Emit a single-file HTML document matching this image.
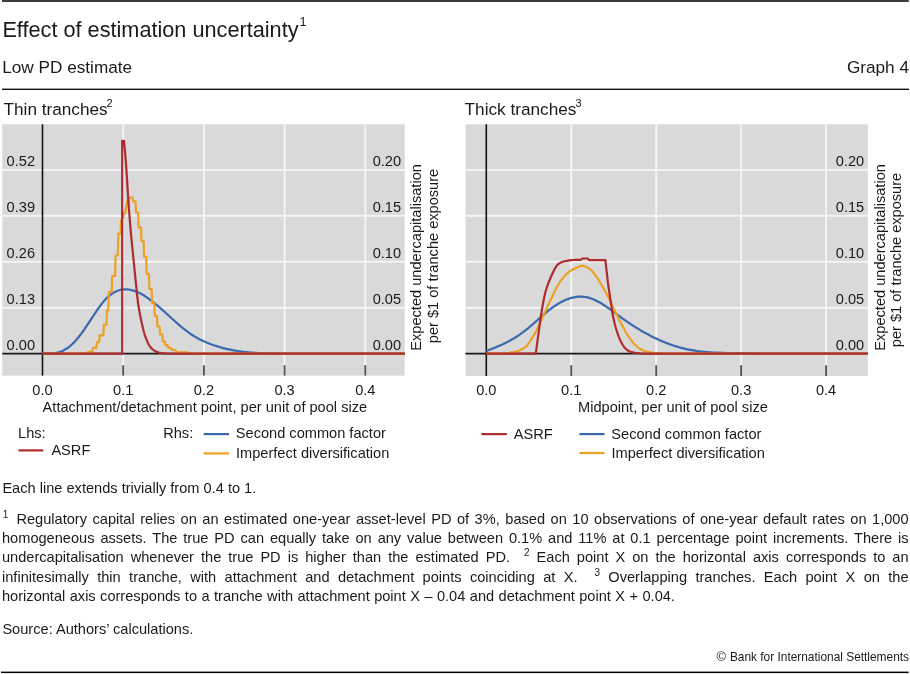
<!DOCTYPE html>
<html><head><meta charset="utf-8">
<style>
html,body{margin:0;padding:0;background:#fff;}
body{width:910px;height:674px;position:relative;overflow:hidden;font-family:"Liberation Sans",sans-serif;color:#1a1a1a;}
svg{position:absolute;left:0;top:0;will-change:transform;}
.fn{will-change:transform;position:absolute;left:2.4px;width:906.6px;font-size:14.6px;line-height:19.4px;white-space:nowrap;}
.j{text-align:justify;text-align-last:justify;white-space:normal;}
.fn sup{font-size:10px;vertical-align:0;position:relative;top:-6.5px;}
</style></head><body>
<svg width="910" height="674" viewBox="0 0 910 674">
<rect x="2" y="0" width="906.8" height="2" fill="#3c3c3c"/>
<rect x="2" y="88.6" width="907" height="1.4" fill="#111"/>
<rect x="1" y="671.6" width="907.6" height="1.5" fill="#000"/>
<g font-family="Liberation Sans, sans-serif" fill="#1a1a1a">
<text x="2.4" y="36.5" font-size="21.7">Effect of estimation uncertainty</text>
<text x="299.4" y="26.2" font-size="12.8">1</text>
<text x="2.2" y="72.7" font-size="17.2">Low PD estimate</text>
<text x="909" y="72.7" font-size="17.2" text-anchor="end">Graph 4</text>
<text x="3.5" y="115" font-size="17.2">Thin tranches</text>
<text x="106.4" y="107.2" font-size="11">2</text>
<text x="464.6" y="115" font-size="17.2">Thick tranches</text>
<text x="575.6" y="107.1" font-size="11">3</text>
<text x="2.4" y="492.9" font-size="14.6">Each line extends trivially from 0.4 to 1.</text>
<text x="2.4" y="633.7" font-size="14.6">Source: Authors’ calculations.</text>
<text x="716.4" y="661.4" font-size="12.8">©</text><text x="909" y="661.2" font-size="11.9" text-anchor="end">Bank for International Settlements</text>
</g>
<g font-family="Liberation Sans, sans-serif" font-size="14.6" fill="#1a1a1a">
<text x="18.1" y="437.8">Lhs:</text>
<text x="51.4" y="454.6">ASRF</text>
<text x="163.2" y="437.8">Rhs:</text>
<text x="235.8" y="438">Second common factor</text>
<text x="236" y="457.7">Imperfect diversification</text>
<text x="513.8" y="438.5">ASRF</text>
<text x="611.3" y="438.5">Second common factor</text>
<text x="611.5" y="457.8">Imperfect diversification</text>
</g>
<g stroke-width="2.2">
<line x1="18.5" x2="43.3" y1="450.4" y2="450.4" stroke="#ae2b2e"/>
<line x1="203.6" x2="229" y1="434.1" y2="434.1" stroke="#3a69ad"/>
<line x1="203.6" x2="229" y1="453.4" y2="453.4" stroke="#eca125"/>
<line x1="481.4" x2="506.9" y1="434.1" y2="434.1" stroke="#ae2b2e"/>
<line x1="579.4" x2="604.5" y1="434.1" y2="434.1" stroke="#3a69ad"/>
<line x1="579.4" x2="604.5" y1="453" y2="453" stroke="#eca125"/>
</g>
<rect x="2.25" y="124.3" width="402.45" height="251.30" fill="#d9d9d9"/>
<line x1="2.25" x2="404.7" y1="307.71" y2="307.71" stroke="#f4f4f4" stroke-width="2"/>
<line x1="2.25" x2="404.7" y1="261.77" y2="261.77" stroke="#f4f4f4" stroke-width="2"/>
<line x1="2.25" x2="404.7" y1="215.83" y2="215.83" stroke="#f4f4f4" stroke-width="2"/>
<line x1="2.25" x2="404.7" y1="169.89" y2="169.89" stroke="#f4f4f4" stroke-width="2"/>
<line x1="123.20" x2="123.20" y1="124.3" y2="375.6" stroke="#f4f4f4" stroke-width="2"/>
<line x1="123.20" x2="123.20" y1="365.2" y2="375.6" stroke="#505050" stroke-width="1.8"/>
<line x1="203.90" x2="203.90" y1="124.3" y2="375.6" stroke="#f4f4f4" stroke-width="2"/>
<line x1="203.90" x2="203.90" y1="365.2" y2="375.6" stroke="#505050" stroke-width="1.8"/>
<line x1="284.60" x2="284.60" y1="124.3" y2="375.6" stroke="#f4f4f4" stroke-width="2"/>
<line x1="284.60" x2="284.60" y1="365.2" y2="375.6" stroke="#505050" stroke-width="1.8"/>
<line x1="365.30" x2="365.30" y1="124.3" y2="375.6" stroke="#f4f4f4" stroke-width="2"/>
<line x1="365.30" x2="365.30" y1="365.2" y2="375.6" stroke="#505050" stroke-width="1.8"/>
<line x1="2.25" x2="404.7" y1="353.65" y2="353.65" stroke="#1a1a1a" stroke-width="1.8"/>
<line x1="42.5" x2="42.5" y1="124.3" y2="375.6" stroke="#111" stroke-width="1.6"/>
<path d="M42.5,353.2 43.5,353.3 44.5,353.4 45.5,353.6 46.5,353.6 47.5,353.6 48.5,353.6 49.5,353.6 50.5,353.6 51.5,353.6 52.5,353.6 53.5,353.5 54.5,353.3 55.5,353.2 56.5,352.9 57.5,352.7 58.5,352.4 59.5,352.1 60.5,351.7 61.5,351.3 62.5,350.9 63.5,350.4 64.5,349.8 65.5,349.3 66.5,348.6 67.5,348 68.5,347.3 69.5,346.5 70.5,345.7 71.5,344.8 72.5,343.9 73.5,342.9 74.5,341.9 75.5,340.8 76.5,339.7 77.5,338.5 78.5,337.3 79.5,336 80.5,334.7 81.5,333.4 82.5,332 83.5,330.6 84.5,329.2 85.5,327.7 86.5,326.2 87.5,324.7 88.5,323.2 89.5,321.7 90.5,320.2 91.5,318.6 92.5,317.1 93.5,315.6 94.5,314.1 95.5,312.6 96.5,311.1 97.5,309.6 98.5,308.2 99.5,306.8 100.5,305.4 101.5,304.1 102.5,302.8 103.5,301.6 104.5,300.4 105.5,299.3 106.5,298.3 107.5,297.3 108.5,296.4 109.5,295.6 110.5,294.8 111.5,294.1 112.5,293.4 113.5,292.8 114.5,292.2 115.5,291.7 116.5,291.2 117.5,290.8 118.5,290.5 119.5,290.2 120.5,289.9 121.5,289.7 122.5,289.6 123.5,289.4 124.5,289.4 125.5,289.3 126.5,289.4 127.5,289.4 128.5,289.5 129.5,289.7 130.5,289.8 131.5,290.1 132.5,290.3 133.5,290.6 134.5,290.9 135.5,291.3 136.5,291.7 137.5,292.1 138.5,292.5 139.5,293 140.5,293.5 141.5,294.1 142.5,294.6 143.5,295.2 144.5,295.8 145.5,296.5 146.5,297.1 147.5,297.8 148.5,298.5 149.5,299.3 150.5,300 151.5,300.8 152.5,301.5 153.5,302.3 154.5,303.1 155.5,304 156.5,304.8 157.5,305.6 158.5,306.5 159.5,307.4 160.5,308.2 161.5,309.1 162.5,310 163.5,310.9 164.5,311.8 165.5,312.7 166.5,313.6 167.5,314.5 168.5,315.5 169.5,316.4 170.5,317.3 171.5,318.2 172.5,319.1 173.5,320 174.5,320.9 175.5,321.8 176.5,322.7 177.5,323.5 178.5,324.4 179.5,325.3 180.5,326.1 181.5,327 182.5,327.8 183.5,328.6 184.5,329.4 185.5,330.2 186.5,330.9 187.5,331.7 188.5,332.4 189.5,333.1 190.5,333.8 191.5,334.5 192.5,335.1 193.5,335.8 194.5,336.4 195.5,337 196.5,337.6 197.5,338.1 198.5,338.7 199.5,339.2 200.5,339.7 201.5,340.2 202.5,340.7 203.5,341.2 204.5,341.6 205.5,342.1 206.5,342.5 207.5,342.9 208.5,343.3 209.5,343.7 210.5,344.1 211.5,344.4 212.5,344.8 213.5,345.1 214.5,345.5 215.5,345.8 216.5,346.1 217.5,346.4 218.5,346.7 219.5,347 220.5,347.3 221.5,347.6 222.5,347.9 223.5,348.1 224.5,348.4 225.5,348.6 226.5,348.9 227.5,349.1 228.5,349.3 229.5,349.5 230.5,349.7 231.5,349.9 232.5,350.1 233.5,350.3 234.5,350.5 235.5,350.6 236.5,350.8 237.5,351 238.5,351.1 239.5,351.3 240.5,351.4 241.5,351.5 242.5,351.7 243.5,351.8 244.5,351.9 245.5,352 246.5,352.1 247.5,352.2 248.5,352.3 249.5,352.4 250.5,352.5 251.5,352.6 252.5,352.6 253.5,352.7 254.5,352.8 255.5,352.8 256.5,352.9 257.5,353 258.5,353 259.5,353.1 260.5,353.1 261.5,353.2 262.5,353.2 263.5,353.2 264.5,353.3 265.5,353.3 266.5,353.3 267.5,353.3 268.5,353.4 269.5,353.4 270.5,353.4 271.5,353.4 272.5,353.4 273.5,353.5 274.5,353.5 275.5,353.5 276.5,353.5 277.5,353.5 278.5,353.5 279.5,353.5 280.5,353.5 281.5,353.5 282.5,353.5 283.5,353.5 284.5,353.5 285.5,353.5 286.5,353.5 287.5,353.5 288.5,353.5 289.5,353.5 290.5,353.5 291.5,353.5 292.5,353.5 293.5,353.5 294.5,353.6 295.5,353.6 296.5,353.6 297.5,353.6 298.5,353.6 299.5,353.6 300,353.6 L404.7,353.65" fill="none" stroke="#3a69ad" stroke-width="2.2" stroke-linejoin="round"/>
<path d="M42.5,353.6 L84.5,353.6 L88.9,351.8 L92.3,351.8 L92.9,347.8 L96.4,347.8 L96.9,342.4 L99.1,342.4 L99.6,335.3 L103.4,335.3 L103.9,324.8 L106.4,324.8 L106.9,310.3 L108.3,310.3 L108.8,292 L111.7,292 L112.2,276 L115.1,276 L115.6,255.5 L117.8,255.5 L118.3,233.6 L120.6,233.6 L121.1,220.7 L123,217.7 L124.4,212.1 L125.1,213.4 L127.4,200.6 L129.7,197.6 L132.6,197.6 L133.1,201.3 L135.5,201.3 L136,212.5 L138.1,212.5 L138.6,227.3 L141,227.3 L141.5,241.2 L143.6,241.2 L144.1,256.9 L146.2,256.9 L146.7,273.8 L148.9,273.8 L149.4,289 L151.6,289 L152.1,303.2 L154.3,303.2 L154.8,315.8 L156.9,315.8 L157.4,326.4 L159.6,326.4 L160.1,334.4 L162.3,334.4 L162.8,341.5 L164.9,341.5 L165.4,345.1 L167.6,345.1 L168.1,347.8 L171.2,347.8 L171.7,350 L175.6,350 L176.1,352.3 L187.5,352.3 L190,353.6 L404.7,353.6" fill="none" stroke="#eca125" stroke-width="2.2" stroke-linejoin="round"/>
<path d="M42.5,353.65 L122.2,353.65 L122.2,140.8 L124,140.8 L124,140.8 125,151.6 126,164.2 127,178.7 128,195.4 129,209.7 130,222.5 131,234.2 132,244.5 133,254.5 134,264.5 135,274.3 136,284.2 137,294.3 138,302.6 139,309 140,314.6 141,319.6 142,324.1 143,328.4 144,332.3 145,335.7 146,338.4 147,340.9 148,343.1 149,345 150,346.5 151,347.7 152,348.7 153,349.7 154,350.4 155,351.1 156,351.6 157,351.9 158,352.3 159,352.6 160,352.8 161,353 162,353.2 163,353.2 164,353.3 165,353.4 166,353.4 167,353.5 168,353.5 169,353.6 170,353.6 171,353.6 172,353.6 173,353.6 174,353.6 175,353.6 176,353.6 177,353.6 178,353.6 179,353.6 180,353.6 181,353.6 182,353.6 183,353.6 184,353.6 185,353.6 186,353.6 187,353.6 188,353.6 189,353.6 190,353.6 191,353.6 192,353.6 193,353.6 194,353.6 195,353.6 196,353.6 197,353.6 198,353.6 199,353.6 200,353.6 201,353.6 202,353.6 203,353.6 204,353.6 205,353.6 206,353.6 207,353.6 208,353.6 209,353.6 210,353.6 211,353.6 212,353.6 213,353.6 214,353.6 215,353.6 216,353.6 217,353.6 218,353.6 219,353.6 220,353.6 221,353.6 222,353.6 223,353.6 224,353.6 225,353.6 226,353.6 227,353.6 228,353.6 229,353.6 230,353.6 231,353.6 232,353.6 233,353.6 234,353.6 235,353.6 236,353.6 237,353.6 238,353.6 239,353.6 240,353.6 241,353.6 242,353.6 243,353.6 244,353.6 245,353.6 246,353.6 247,353.6 248,353.6 249,353.6 250,353.6 251,353.6 252,353.6 253,353.6 254,353.6 255,353.6 256,353.6 257,353.6 258,353.6 259,353.6 260,353.6 261,353.6 262,353.6 263,353.6 264,353.6 265,353.6 266,353.6 267,353.6 268,353.6 269,353.6 270,353.6 271,353.6 272,353.6 273,353.6 274,353.6 275,353.6 276,353.6 277,353.6 278,353.6 279,353.6 280,353.6 281,353.6 282,353.6 283,353.6 284,353.6 285,353.6 286,353.6 287,353.6 288,353.6 289,353.6 290,353.6 291,353.6 292,353.6 293,353.6 294,353.6 295,353.6 296,353.6 297,353.6 298,353.6 299,353.6 300,353.6 301,353.6 302,353.6 303,353.6 304,353.6 305,353.6 306,353.6 307,353.6 308,353.6 309,353.6 310,353.6 311,353.6 312,353.6 313,353.6 314,353.6 315,353.6 316,353.6 317,353.6 318,353.6 319,353.6 320,353.6 321,353.6 322,353.6 323,353.6 324,353.6 325,353.6 326,353.6 327,353.6 328,353.6 329,353.6 330,353.6 331,353.6 332,353.6 333,353.6 334,353.6 335,353.6 336,353.6 337,353.6 338,353.6 339,353.6 340,353.6 341,353.6 342,353.6 343,353.6 344,353.6 345,353.6 346,353.6 347,353.6 348,353.6 349,353.6 350,353.6 351,353.6 352,353.6 353,353.6 354,353.6 355,353.6 356,353.6 357,353.6 358,353.6 359,353.6 360,353.6 361,353.6 362,353.6 363,353.6 364,353.6 365,353.6 366,353.6 367,353.6 368,353.6 369,353.6 370,353.6 371,353.6 372,353.6 373,353.6 374,353.6 375,353.6 376,353.6 377,353.6 378,353.6 379,353.6 380,353.6 381,353.6 382,353.6 383,353.6 384,353.6 385,353.6 386,353.6 387,353.6 388,353.6 389,353.6 390,353.6 391,353.6 392,353.6 393,353.6 394,353.6 395,353.6 396,353.6 397,353.6 398,353.6 399,353.6 400,353.6 401,353.6 402,353.6 403,353.6 404,353.6 404.7,353.6" fill="none" stroke="#ae2b2e" stroke-width="2.2" stroke-linejoin="round"/>
<g font-family="Liberation Sans, sans-serif" font-size="14.6" fill="#1a1a1a">
<text x="35" y="349.75" text-anchor="end">0.00</text>
<text x="35" y="303.81" text-anchor="end">0.13</text>
<text x="35" y="257.87" text-anchor="end">0.26</text>
<text x="35" y="211.93" text-anchor="end">0.39</text>
<text x="35" y="165.99" text-anchor="end">0.52</text>
<text x="401.10" y="349.75" text-anchor="end">0.00</text>
<text x="401.10" y="303.81" text-anchor="end">0.05</text>
<text x="401.10" y="257.87" text-anchor="end">0.10</text>
<text x="401.10" y="211.93" text-anchor="end">0.15</text>
<text x="401.10" y="165.99" text-anchor="end">0.20</text>
<text x="42.50" y="395.2" text-anchor="middle">0.0</text>
<text x="123.20" y="395.2" text-anchor="middle">0.1</text>
<text x="203.90" y="395.2" text-anchor="middle">0.2</text>
<text x="284.60" y="395.2" text-anchor="middle">0.3</text>
<text x="365.30" y="395.2" text-anchor="middle">0.4</text>
<text x="42.6" y="412">Attachment/detachment point, per unit of pool size</text>
<text transform="translate(421.40,257.4) rotate(-90)" text-anchor="middle">Expected undercapitalisation</text>
<text transform="translate(437.80,256.0) rotate(-90)" text-anchor="middle">per $1 of tranche exposure</text>
</g>
<rect x="465.5" y="124.3" width="402.30" height="251.70" fill="#d9d9d9"/>
<line x1="465.5" x2="867.8" y1="307.71" y2="307.71" stroke="#f4f4f4" stroke-width="2"/>
<line x1="465.5" x2="867.8" y1="261.77" y2="261.77" stroke="#f4f4f4" stroke-width="2"/>
<line x1="465.5" x2="867.8" y1="215.83" y2="215.83" stroke="#f4f4f4" stroke-width="2"/>
<line x1="465.5" x2="867.8" y1="169.89" y2="169.89" stroke="#f4f4f4" stroke-width="2"/>
<line x1="571.25" x2="571.25" y1="124.3" y2="376.0" stroke="#f4f4f4" stroke-width="2"/>
<line x1="571.25" x2="571.25" y1="365.2" y2="376.0" stroke="#505050" stroke-width="1.8"/>
<line x1="656.20" x2="656.20" y1="124.3" y2="376.0" stroke="#f4f4f4" stroke-width="2"/>
<line x1="656.20" x2="656.20" y1="365.2" y2="376.0" stroke="#505050" stroke-width="1.8"/>
<line x1="741.15" x2="741.15" y1="124.3" y2="376.0" stroke="#f4f4f4" stroke-width="2"/>
<line x1="741.15" x2="741.15" y1="365.2" y2="376.0" stroke="#505050" stroke-width="1.8"/>
<line x1="826.10" x2="826.10" y1="124.3" y2="376.0" stroke="#f4f4f4" stroke-width="2"/>
<line x1="826.10" x2="826.10" y1="365.2" y2="376.0" stroke="#505050" stroke-width="1.8"/>
<line x1="465.5" x2="867.8" y1="353.65" y2="353.65" stroke="#1a1a1a" stroke-width="1.8"/>
<line x1="486.3" x2="486.3" y1="124.3" y2="376.0" stroke="#111" stroke-width="1.6"/>
<path d="M486.3,350.9 487.3,350.5 488.3,350.2 489.3,349.8 490.3,349.4 491.3,349.1 492.3,348.7 493.3,348.3 494.3,347.9 495.3,347.5 496.3,347.1 497.3,346.6 498.3,346.2 499.3,345.8 500.3,345.3 501.3,344.9 502.3,344.4 503.3,344 504.3,343.5 505.3,343 506.3,342.5 507.3,342 508.3,341.5 509.3,340.9 510.3,340.4 511.3,339.8 512.3,339.2 513.3,338.7 514.3,338.1 515.3,337.5 516.3,336.8 517.3,336.2 518.3,335.5 519.3,334.9 520.3,334.2 521.3,333.5 522.3,332.7 523.3,332 524.3,331.2 525.3,330.5 526.3,329.7 527.3,328.9 528.3,328.1 529.3,327.2 530.3,326.4 531.3,325.5 532.3,324.6 533.3,323.8 534.3,322.9 535.3,322 536.3,321.1 537.3,320.2 538.3,319.3 539.3,318.4 540.3,317.6 541.3,316.7 542.3,315.8 543.3,314.9 544.3,314.1 545.3,313.2 546.3,312.4 547.3,311.5 548.3,310.7 549.3,309.9 550.3,309.2 551.3,308.4 552.3,307.7 553.3,306.9 554.3,306.2 555.3,305.6 556.3,304.9 557.3,304.3 558.3,303.7 559.3,303.1 560.3,302.5 561.3,302 562.3,301.5 563.3,301 564.3,300.5 565.3,300.1 566.3,299.6 567.3,299.2 568.3,298.9 569.3,298.5 570.3,298.2 571.3,297.9 572.3,297.7 573.3,297.5 574.3,297.3 575.3,297.1 576.3,296.9 577.3,296.8 578.3,296.7 579.3,296.7 580.3,296.7 581.3,296.7 582.3,296.7 583.3,296.8 584.3,296.9 585.3,297 586.3,297.2 587.3,297.4 588.3,297.6 589.3,297.9 590.3,298.2 591.3,298.5 592.3,298.9 593.3,299.3 594.3,299.7 595.3,300.2 596.3,300.7 597.3,301.2 598.3,301.7 599.3,302.3 600.3,302.8 601.3,303.4 602.3,304 603.3,304.7 604.3,305.3 605.3,306 606.3,306.6 607.3,307.3 608.3,308 609.3,308.7 610.3,309.5 611.3,310.2 612.3,310.9 613.3,311.6 614.3,312.4 615.3,313.1 616.3,313.9 617.3,314.6 618.3,315.4 619.3,316.1 620.3,316.8 621.3,317.6 622.3,318.3 623.3,319 624.3,319.7 625.3,320.4 626.3,321.1 627.3,321.8 628.3,322.5 629.3,323.2 630.3,323.8 631.3,324.5 632.3,325.1 633.3,325.8 634.3,326.4 635.3,327.1 636.3,327.7 637.3,328.3 638.3,328.9 639.3,329.5 640.3,330.1 641.3,330.7 642.3,331.3 643.3,331.9 644.3,332.4 645.3,333 646.3,333.5 647.3,334.1 648.3,334.6 649.3,335.1 650.3,335.7 651.3,336.2 652.3,336.7 653.3,337.2 654.3,337.7 655.3,338.2 656.3,338.6 657.3,339.1 658.3,339.6 659.3,340 660.3,340.4 661.3,340.9 662.3,341.3 663.3,341.7 664.3,342.1 665.3,342.5 666.3,342.9 667.3,343.3 668.3,343.7 669.3,344.1 670.3,344.4 671.3,344.8 672.3,345.1 673.3,345.5 674.3,345.8 675.3,346.1 676.3,346.4 677.3,346.7 678.3,347 679.3,347.3 680.3,347.6 681.3,347.8 682.3,348.1 683.3,348.4 684.3,348.6 685.3,348.8 686.3,349.1 687.3,349.3 688.3,349.5 689.3,349.7 690.3,349.9 691.3,350.1 692.3,350.2 693.3,350.4 694.3,350.6 695.3,350.7 696.3,350.9 697.3,351 698.3,351.2 699.3,351.3 700.3,351.4 701.3,351.5 702.3,351.6 703.3,351.7 704.3,351.8 705.3,351.9 706.3,352 707.3,352.1 708.3,352.2 709.3,352.3 710.3,352.3 711.3,352.4 712.3,352.5 713.3,352.5 714.3,352.6 715.3,352.6 716.3,352.7 717.3,352.7 718.3,352.7 719.3,352.8 720.3,352.8 721.3,352.9 722.3,352.9 723.3,352.9 724.3,352.9 725.3,353 726.3,353 727.3,353 728.3,353 729.3,353 730.3,353 731.3,353.1 732.3,353.1 733.3,353.1 734.3,353.1 735.3,353.1 736.3,353.1 737.3,353.1 738.3,353.1 739.3,353.1 740.3,353.2 741.3,353.2 742.3,353.2 743.3,353.2 744.3,353.2 745.3,353.2 746.3,353.2 747.3,353.3 748.3,353.3 749.3,353.3 750.3,353.3 751.3,353.4 752.3,353.4 753.3,353.4 754.3,353.5 755.3,353.5 756.3,353.5 757.3,353.6 758.3,353.6 759.3,353.6 760,353.6 L867.8,353.65" fill="none" stroke="#3a69ad" stroke-width="2.2" stroke-linejoin="round"/>
<path d="M486.3,353.6 487.3,353.6 488.3,353.6 489.3,353.6 490.3,353.6 491.3,353.6 492.3,353.6 493.3,353.6 494.3,353.6 495.3,353.6 496.3,353.6 497.3,353.6 498.3,353.6 499.3,353.6 500.3,353.6 501.3,353.6 502.3,353.5 503.3,353.5 504.3,353.4 505.3,353.3 506.3,353.2 507.3,353.1 508.3,353 509.3,352.9 510.3,352.7 511.3,352.6 512.3,352.4 513.3,352.2 514.3,352 515.3,351.8 516.3,351.5 517.3,351.2 518.3,350.9 519.3,350.5 520.3,350.1 521.3,349.6 522.3,349.1 523.3,348.5 524.3,347.8 525.3,347.1 526.3,346.2 527.3,345.1 528.3,343.7 529.3,342.3 530.3,340.8 531.3,339.2 532.3,337.7 533.3,336 534.3,334.3 535.3,332.5 536.3,330.7 537.3,328.8 538.3,326.8 539.3,324.8 540.3,322.6 541.3,320.4 542.3,318.1 543.3,315.8 544.3,313.6 545.3,311.4 546.3,309.2 547.3,307 548.3,304.9 549.3,302.7 550.3,300.6 551.3,298.5 552.3,296.4 553.3,294.3 554.3,292.2 555.3,290.1 556.3,288.2 557.3,286.3 558.3,284.6 559.3,283 560.3,281.5 561.3,280 562.3,278.6 563.3,277.3 564.3,276.2 565.3,275.2 566.3,274.2 567.3,273.4 568.3,272.5 569.3,271.7 570.3,271 571.3,270.4 572.3,269.8 573.3,269.2 574.3,268.8 575.3,268.4 576.3,268 577.3,267.5 578.3,267.1 579.3,266.6 580.3,266.2 581.3,265.9 582.3,265.8 583.3,265.9 584.3,266.1 585.3,266.4 586.3,266.9 587.3,267.4 588.3,268 589.3,268.6 590.3,269.4 591.3,270.3 592.3,271.4 593.3,272.6 594.3,273.9 595.3,275.2 596.3,276.5 597.3,278 598.3,279.5 599.3,281.2 600.3,282.8 601.3,284.5 602.3,286.2 603.3,287.9 604.3,289.7 605.3,291.5 606.3,293.3 607.3,295.1 608.3,297 609.3,299 610.3,301.1 611.3,303.2 612.3,305.4 613.3,307.6 614.3,309.7 615.3,311.8 616.3,313.9 617.3,315.9 618.3,318 619.3,320 620.3,321.9 621.3,323.8 622.3,325.7 623.3,327.6 624.3,329.5 625.3,331.3 626.3,333 627.3,334.7 628.3,336.2 629.3,337.7 630.3,339.1 631.3,340.4 632.3,341.7 633.3,342.9 634.3,344 635.3,345 636.3,345.9 637.3,346.8 638.3,347.7 639.3,348.4 640.3,349.1 641.3,349.6 642.3,350.1 643.3,350.5 644.3,350.9 645.3,351.2 646.3,351.5 647.3,351.8 648.3,352.1 649.3,352.3 650.3,352.4 651.3,352.6 652.3,352.7 653.3,352.9 654.3,353 655.3,353.1 656.3,353.2 657.3,353.3 658.3,353.3 659.3,353.4 660.3,353.5 661.3,353.5 662.3,353.6 663.3,353.6 664.3,353.6 665.3,353.6 666.3,353.6 667.3,353.6 668.3,353.6 669.3,353.6 670.3,353.6 671.3,353.6 672.3,353.6 673.3,353.6 674.3,353.6 675.3,353.6 676.3,353.6 677.3,353.6 678.3,353.6 679.3,353.6 680.3,353.6 681.3,353.6 682.3,353.6 683.3,353.6 684.3,353.6 685.3,353.6 686.3,353.6 687.3,353.6 688.3,353.6 689.3,353.6 690.3,353.6 691.3,353.6 692.3,353.6 693.3,353.6 694.3,353.6 695.3,353.6 696.3,353.6 697.3,353.6 698.3,353.6 699.3,353.6 700.3,353.6 701.3,353.6 702.3,353.6 703.3,353.6 704.3,353.6 705.3,353.6 706.3,353.6 707.3,353.6 708.3,353.6 709.3,353.6 710.3,353.6 711.3,353.6 712.3,353.6 713.3,353.6 714.3,353.6 715.3,353.6 716.3,353.6 717.3,353.6 718.3,353.6 719.3,353.6 720.3,353.6 721.3,353.6 722.3,353.6 723.3,353.6 724.3,353.6 725.3,353.6 726.3,353.6 727.3,353.6 728.3,353.6 729.3,353.6 730.3,353.6 731.3,353.6 732.3,353.6 733.3,353.6 734.3,353.6 735.3,353.6 736.3,353.6 737.3,353.6 738.3,353.6 739.3,353.6 740.3,353.6 741.3,353.6 742.3,353.6 743.3,353.6 744.3,353.6 745.3,353.6 746.3,353.6 747.3,353.6 748.3,353.6 749.3,353.6 750.3,353.6 751.3,353.6 752.3,353.6 753.3,353.6 754.3,353.6 755.3,353.6 756.3,353.6 757.3,353.6 758.3,353.6 759.3,353.6 760.3,353.6 761.3,353.6 762.3,353.6 763.3,353.6 764.3,353.6 765.3,353.6 766.3,353.6 767.3,353.6 768.3,353.6 769.3,353.6 770.3,353.6 771.3,353.6 772.3,353.6 773.3,353.6 774.3,353.6 775.3,353.6 776.3,353.6 777.3,353.6 778.3,353.6 779.3,353.6 780.3,353.6 781.3,353.6 782.3,353.6 783.3,353.6 784.3,353.6 785.3,353.6 786.3,353.6 787.3,353.6 788.3,353.6 789.3,353.6 790.3,353.6 791.3,353.6 792.3,353.6 793.3,353.6 794.3,353.6 795.3,353.6 796.3,353.6 797.3,353.6 798.3,353.6 799.3,353.6 800.3,353.6 801.3,353.6 802.3,353.6 803.3,353.6 804.3,353.6 805.3,353.6 806.3,353.6 807.3,353.6 808.3,353.6 809.3,353.6 810.3,353.6 811.3,353.6 812.3,353.6 813.3,353.6 814.3,353.6 815.3,353.6 816.3,353.6 817.3,353.6 818.3,353.6 819.3,353.6 820.3,353.6 821.3,353.6 822.3,353.6 823.3,353.6 824.3,353.6 825.3,353.6 826.3,353.6 827.3,353.6 828.3,353.6 829.3,353.6 830.3,353.6 831.3,353.6 832.3,353.6 833.3,353.6 834.3,353.6 835.3,353.6 836.3,353.6 837.3,353.6 838.3,353.6 839.3,353.6 840.3,353.6 841.3,353.6 842.3,353.6 843.3,353.6 844.3,353.6 845.3,353.6 846.3,353.6 847.3,353.6 848.3,353.6 849.3,353.6 850.3,353.6 851.3,353.6 852.3,353.6 853.3,353.6 854.3,353.6 855.3,353.6 856.3,353.6 857.3,353.6 858.3,353.6 859.3,353.6 860.3,353.6 861.3,353.6 862.3,353.6 863.3,353.6 864.3,353.6 865.3,353.6 866.3,353.6 867.3,353.6 867.8,353.6" fill="none" stroke="#eca125" stroke-width="2.2" stroke-linejoin="round"/>
<path d="M486.3,353.65 L535.8,353.65 L535.8,353.6 536.8,346 537.8,338.6 538.8,331.2 539.8,323.7 540.8,316.6 541.8,310.3 542.8,304.6 543.8,299.3 544.8,294.7 545.8,290.8 546.8,287.5 547.8,284.6 548.8,282 549.8,279.6 550.8,277.3 551.8,275 552.8,272.7 553.8,270.7 554.8,268.8 555.8,267.1 556.8,265.5 557.8,264.4 558.8,263.7 559.8,263.1 560.8,262.5 561.8,262.1 562.8,261.8 563.8,261.5 564.8,261.2 565.8,261 566.8,260.8 567.8,260.6 568.8,260.4 569.8,260.3 570.8,260.1 571.8,260 572.8,260 573.8,260 574.8,259.9 575.8,259.9 576.8,259.9 577.8,259.8 578.8,259.8 579.8,259.8 580.8,259.8 580.9,259.8 L582.3,258.5 L587.6,258.5 L589.1,260.1 L605.4,260.1 L607.9,282.7 L610.3,299 L612.8,315.3 L612.8,315.3 613.8,319.8 614.8,324 615.8,327.7 616.8,331 617.8,334 618.8,336.8 619.8,339.2 620.8,341.3 621.8,343.2 622.8,345 623.8,346.6 624.8,347.8 625.8,348.7 626.8,349.6 627.8,350.3 628.8,351 629.8,351.5 630.8,351.9 631.8,352.2 632.8,352.4 633.8,352.6 634.8,352.8 635.8,353 636.8,353.1 637.8,353.2 638.8,353.3 639.8,353.4 640.8,353.5 641.8,353.5 642.8,353.5 643.8,353.6 644.8,353.6 645.8,353.6 646.8,353.6 647.8,353.6 648.8,353.6 649.8,353.6 650,353.6 L867.8,353.65" fill="none" stroke="#ae2b2e" stroke-width="2.2" stroke-linejoin="round"/>
<g font-family="Liberation Sans, sans-serif" font-size="14.6" fill="#1a1a1a">
<text x="864.20" y="349.75" text-anchor="end">0.00</text>
<text x="864.20" y="303.81" text-anchor="end">0.05</text>
<text x="864.20" y="257.87" text-anchor="end">0.10</text>
<text x="864.20" y="211.93" text-anchor="end">0.15</text>
<text x="864.20" y="165.99" text-anchor="end">0.20</text>
<text x="486.30" y="395.2" text-anchor="middle">0.0</text>
<text x="571.25" y="395.2" text-anchor="middle">0.1</text>
<text x="656.20" y="395.2" text-anchor="middle">0.2</text>
<text x="741.15" y="395.2" text-anchor="middle">0.3</text>
<text x="826.10" y="395.2" text-anchor="middle">0.4</text>
<text x="578" y="412">Midpoint, per unit of pool size</text>
<text transform="translate(884.50,257.4) rotate(-90)" text-anchor="middle">Expected undercapitalisation</text>
<text transform="translate(900.90,260.0) rotate(-90)" text-anchor="middle">per $1 of tranche exposure</text>
</g>
</svg>
<div class="fn j" style="top:509.6px"><sup style="display:inline-block;width:13.6px;padding-left:0.8px">1</sup>Regulatory capital relies on an estimated one-year asset-level PD of 3%, based on 10 observations of one-year default rates on 1,000</div>
<div class="fn j" style="top:529px">homogeneous assets. The true PD can equally take on any value between 0.1% and 11% at 0.1 percentage point increments. There is</div>
<div class="fn j" style="top:548.4px">undercapitalisation whenever the true PD is higher than the estimated PD. &nbsp;<sup>2</sup> Each point X on the horizontal axis corresponds to an</div>
<div class="fn j" style="top:567.8px">infinitesimally thin tranche, with attachment and detachment points coinciding at X. &nbsp;<sup>3</sup> Overlapping tranches. Each point X on the</div>
<div class="fn" style="top:587.2px;word-spacing:0.38px">horizontal axis corresponds to a tranche with attachment point X – 0.04 and detachment point X + 0.04.</div>
</body></html>
